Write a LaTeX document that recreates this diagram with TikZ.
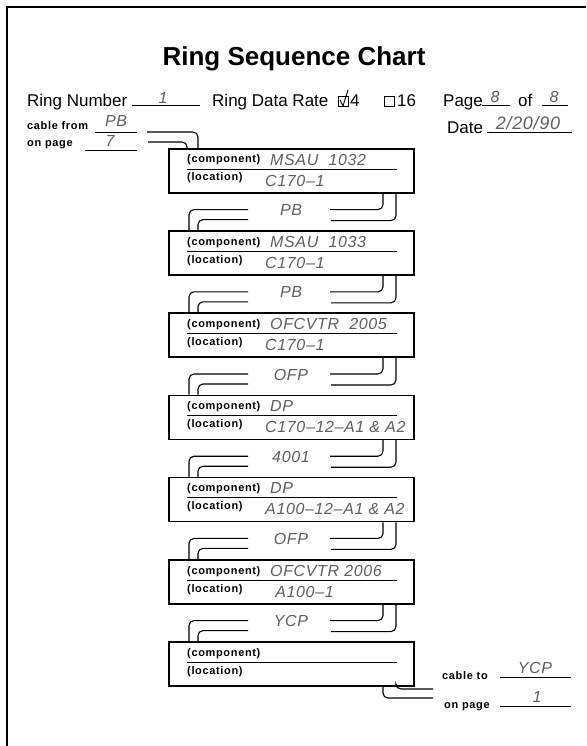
\documentclass[tikz,border=0pt]{standalone}
\usepackage{fontspec}
\setmainfont{Liberation Sans}
\newfontfamily\handfont[LetterSpace=4]{Liberation Sans}
\newfontfamily\tagfont[LetterSpace=6]{Liberation Sans}
\usepackage{tikz}
\usetikzlibrary{calc,positioning}
\definecolor{inkgrey}{RGB}{95,95,95}

\begin{document}
\begin{tikzpicture}[x=1pt, y=-1pt,
    box/.style={rectangle, draw, line width=1.6pt, minimum width=245pt,
                minimum height=44pt, inner sep=0pt, anchor=north west},
    txt/.style={font=\fontsize{17}{20}\selectfont, inner sep=0pt, anchor=base west},
    tag/.style={font=\tagfont\bfseries\fontsize{11}{13}\selectfont, inner sep=0pt, anchor=base west},
    hand/.style={font=\handfont\itshape\fontsize{16}{18}\selectfont, text=inkgrey,
                 inner sep=0pt, anchor=base west},
    rule/.style={line width=0.9pt},
    cable/.style={line width=1.1pt, rounded corners=5pt}
]
\useasboundingbox (0,0) rectangle (586,746);
\draw[line width=1.4pt] (7,746) -- (7,7) -- (586,7);

% heading
\node[font=\bfseries\fontsize{26}{30}\selectfont, inner sep=0pt, anchor=base] (title) at (294,66) {Ring Sequence Chart};

\node[txt] (rnum) at (27,107) {Ring Number};
\draw[rule] (132,105) -- (200,105);
\node[hand, anchor=base] (rnumv) at (163,104) {1};
\node[txt] (rate) at (212,107) {Ring Data Rate};
\node[draw, line width=0.9pt, minimum size=10pt, inner sep=0pt, anchor=south west] (chk4) at (338,107) {};
\draw[line width=0.9pt] (340,100) -- (343,106) -- (348,90);
\node[txt] (r4) at (350,107) {4};
\node[draw, line width=0.9pt, minimum size=10pt, inner sep=0pt, anchor=south west] (chk16) at (384,107) {};
\node[txt] (r16) at (397,107) {16};
\node[txt] (page) at (443,107) {Page};
\draw[rule] (482,105) -- (510,105);
\node[hand, anchor=base] (pagev) at (495,103) {8};
\node[txt] (of) at (518,107) {of};
\draw[rule] (542,105) -- (568,105);
\node[hand, anchor=base] (ofv) at (554,103) {8};
\node[txt] (date) at (447,134) {Date};
\draw[rule] (487,132) -- (572,132);
\node[hand, anchor=base, font=\handfont\itshape\fontsize{18}{20}\selectfont] (datev) at (528,130) {2/20/90};

% cable coming in
\node[tag] (cfrom) at (27,130) {cable from};
\draw[rule] (95,132) -- (137,132);
\node[hand, anchor=base] (cfromv) at (116,127) {PB};
\node[tag] (onpg) at (27,147) {on page};
\draw[rule] (85,150) -- (137,150);
\node[hand, anchor=base] (onpgv) at (110,147) {7};

% components
\foreach \i/\top/\comp/\loc in {1/148/MSAU\ \ 1032/C170–1,
    2/230.2/MSAU\ \ 1033/C170–1,
    3/312.4/OFCVTR\ \ 2005/C170–1,
    4/394.6/DP/C170–12–A1 \& A2,
    5/476.8/DP/A100–12–A1 \& A2,
    6/559/OFCVTR\ 2006/\ \ A100–1,
    7/641.2//} {
  \node[box] (b\i) at (168,\top) {};
  \node[tag] (b\i comp) at ($(b\i.north west)+(19,15)$) {(component)};
  \node[tag] (b\i loc) at ($(b\i.north west)+(19,33)$) {(location)};
  \draw[rule] ($(b\i.north west)+(19,21)$) -- ($(b\i.north west)+(229,21)$);
  \node[hand] (b\i cv) at ($(b\i.north west)+(102,17)$) {\comp};
  \node[hand] (b\i lv) at ($(b\i.north west)+(97,38)$) {\loc};
}

\coordinate (cf1) at (147,132);
\coordinate (cf2) at (148,142);
\draw[cable] (cf1) -| ($(b1.north west)+(30,0)$);
\draw[cable] (cf2) -| ($(b1.north west)+(19,0)$);

% cables between components
\foreach \i/\j/\lab in {1/2/PB, 2/3/PB, 3/4/OFP, 4/5/4001, 5/6/OFP, 6/7/YCP} {
  \node[hand, anchor=base] (c\i) at ($(b\i.south west)+(123,22)$) {\lab};
  \draw[cable] ($(b\i.south west)+(215,0)$) |- ($(b\i.south west)+(162,16)$);
  \draw[cable] ($(b\i.south west)+(228,0)$) |- ($(b\i.south west)+(163,27)$);
  \draw[cable] ($(b\i.south west)+(80,16)$) -| ($(b\j.north west)+(21,0)$);
  \draw[cable] ($(b\i.south west)+(80,26)$) -| ($(b\j.north west)+(30,0)$);
}

% cable going out
\coordinate (ct1) at (433,689);
\coordinate (ct2) at (433,698);
\draw[cable] ($(b7.south west)+(228,0)$) |- (ct1);
\draw[cable] ($(b7.south west)+(215,0)$) |- (ct2);
\node[tag] (cto) at (442,679) {cable to};
\draw[rule] (500,677) -- (571,677);
\node[hand, anchor=base] (ctov) at (535,673) {YCP};
\node[tag] (onpg2) at (444,708) {on page};
\draw[rule] (500,706) -- (571,706);
\node[hand, anchor=base] (onpg2v) at (537,702) {1};
\end{tikzpicture}
\end{document}
